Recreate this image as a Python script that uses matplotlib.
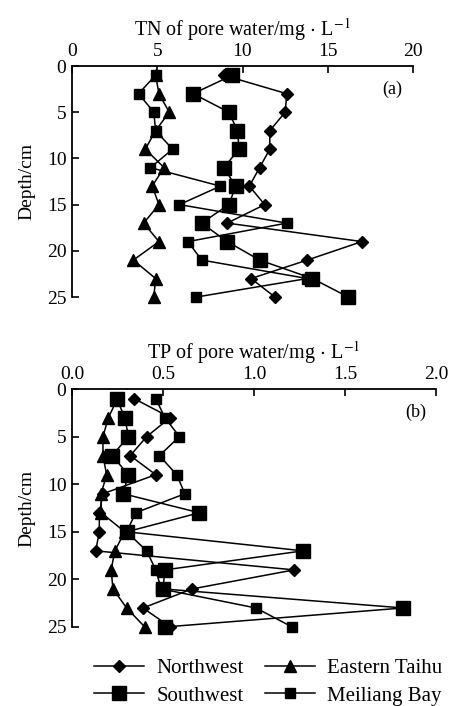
import numpy as np
import matplotlib
matplotlib.use("Agg")
import matplotlib.pyplot as plt

plt.rcParams["font.family"] = ["Liberation Serif", "DejaVu Serif"]
plt.rcParams["mathtext.fontset"] = "stix"

# sampling depths (cm)
depth = [1, 3, 5, 7, 9, 11, 13, 15, 17, 19, 21, 23, 25]

# (a) TN of pore water, mg/L
tn_northwest = [8.9, 12.6, 12.5, 11.6, 11.6, 11.0, 10.4, 11.3, 9.1, 17.0, 13.8, 10.5, 11.9]
tn_southwest = [9.4, 7.1, 9.2, 9.7, 9.8, 8.9, 9.6, 9.2, 7.6, 9.1, 11.0, 14.1, 16.2]
tn_eastern = [4.9, 5.1, 5.7, 4.9, 4.3, 5.4, 4.7, 5.1, 4.2, 5.1, 3.6, 4.9, 4.8]
tn_meiliang = [4.9, 3.9, 4.8, 4.9, 5.9, 4.6, 8.7, 6.3, 12.6, 6.8, 7.6, 13.8, 7.3]

# (b) TP of pore water, mg/L
tp_northwest = [0.34, 0.54, 0.41, 0.32, 0.46, 0.17, 0.15, 0.15, 0.13, 1.22, 0.66, 0.39, 0.54]
tp_southwest = [0.245, 0.29, 0.31, 0.22, 0.31, 0.28, 0.70, 0.30, 1.27, 0.51, 0.50, 1.82, 0.51]
tp_eastern = [0.25, 0.20, 0.17, 0.17, 0.19, 0.16, 0.16, 0.29, 0.235, 0.215, 0.225, 0.30, 0.40]
tp_meiliang = [0.46, 0.51, 0.59, 0.48, 0.575, 0.62, 0.35, 0.30, 0.41, 0.46, 0.49, 1.01, 1.21]

series_names = ["Northwest", "Southwest", "Eastern Taihu", "Meiliang Bay"]
styles = {
    "Northwest": dict(marker="D", ms=6.5),
    "Southwest": dict(marker="s", ms=9.5),
    "Eastern Taihu": dict(marker="^", ms=8.5),
    "Meiliang Bay": dict(marker="s", ms=6.5),
}

fig = plt.figure(figsize=(4.49, 7.06), dpi=100)
ax_a = fig.add_axes([0.1604, 0.5793, 0.7595, 0.3272])
ax_b = fig.add_axes([0.1604, 0.1119, 0.8107, 0.3371])


def setup_axis(ax, xlim, xticks, xticklabels, xlabel, tag, tag_pos):
    ax.set_xlim(*xlim)
    ax.set_ylim(25, 0)
    ax.xaxis.tick_top()
    ax.xaxis.set_label_position("top")
    ax.set_xticks(xticks)
    ax.set_xticklabels(xticklabels)
    ax.set_yticks([0, 5, 10, 15, 20, 25])
    ax.spines["right"].set_visible(False)
    ax.spines["bottom"].set_visible(False)
    for s in ["top", "left"]:
        ax.spines[s].set_linewidth(1.3)
    ax.tick_params(direction="in", length=5, width=1.2, labelsize=14, pad=4)
    ax.set_xlabel(xlabel, fontsize=14.5, labelpad=6)
    ax.set_ylabel("Depth/cm", fontsize=14, labelpad=8)
    ax.text(tag_pos[0], tag_pos[1], tag, transform=ax.transAxes,
            fontsize=13, ha="center", va="center")


tn = [tn_northwest, tn_southwest, tn_eastern, tn_meiliang]
tp = [tp_northwest, tp_southwest, tp_eastern, tp_meiliang]

handles = []
for name, vals in zip(series_names, tn):
    h, = ax_a.plot(vals, depth, color="black", lw=1.1, mfc="black", mec="black",
                   clip_on=False, label=name, **styles[name])
    handles.append(h)
for name, vals in zip(series_names, tp):
    ax_b.plot(vals, depth, color="black", lw=1.1, mfc="black", mec="black",
              clip_on=False, **styles[name])

setup_axis(ax_a, (0, 20), [0, 5, 10, 15, 20], ["0", "5", "10", "15", "20"],
           "TN of pore water/mg$\\,\\cdot\\,$L$^{-1}$", "(a)", (0.94, 0.9))
setup_axis(ax_b, (0, 2.0), [0, 0.5, 1.0, 1.5, 2.0], ["0.0", "0.5", "1.0", "1.5", "2.0"],
           "TP of pore water/mg$\\,\\cdot\\,$L$^{-1}$", "(b)", (0.945, 0.9))

fig.legend(handles=handles, loc="center", bbox_to_anchor=(0.598, 0.034), ncol=2,
           frameon=False, fontsize=15, handlelength=2.4, columnspacing=1.0,
           handletextpad=0.6, labelspacing=0.4, borderpad=0)

fig.savefig("out.png", dpi=100)
